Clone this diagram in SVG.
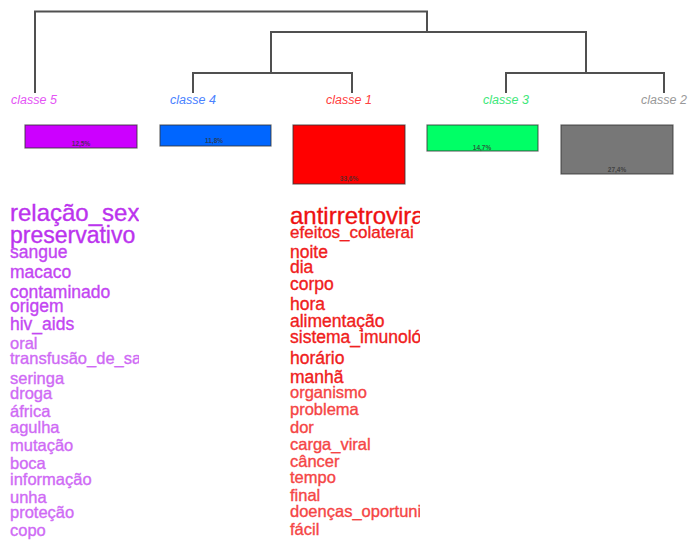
<svg xmlns="http://www.w3.org/2000/svg" width="688" height="541" viewBox="0 0 688 541">
  <style>
    .tree { fill: none; stroke: #505050; stroke-width: 2; }
    .lbl { font-family: "Liberation Sans", Arial, sans-serif; font-size: 12.5px; font-style: italic; text-anchor: middle; }
    .box { stroke: #333; stroke-opacity: 0.7; stroke-width: 1.2; }
    .pct { font-family: "Liberation Sans", Arial, sans-serif; font-size: 6.5px; font-weight: bold; fill: #333; fill-opacity: 0.8; text-anchor: middle; }
    .w { font-family: "Liberation Sans", Arial, sans-serif; stroke-width: 0.35; }
    .big { font-size: 24px; }
    .mid { font-size: 17.5px; }
    .sm { font-size: 16.5px; }
  </style>
  <defs>
    <clipPath id="clipLeft"><rect x="0" y="195" width="139" height="346"/></clipPath>
    <clipPath id="clipRight"><rect x="280" y="195" width="140" height="346"/></clipPath>
  </defs>
  <rect width="688" height="541" fill="#fff"/>

  <!-- dendrogram links -->
  <g id="connectors" class="tree">
    <path d="M35,93 V11.5 H427 V32"/>
    <path d="M271,73 V32 H586 V73"/>
    <path d="M193,93 V73 H352 V93"/>
    <path d="M506,93 V73 H664 V93"/>
  </g>

  <g id="classe5">
    <text class="lbl" x="34" y="104" fill="#e455f5">classe 5</text>
    <rect class="box" x="25" y="125" width="112" height="23" fill="#cc00ff"/>
    <text class="pct" x="81" y="146">12,5%</text>
    <g clip-path="url(#clipLeft)" class="w">
      <g fill="#bb33ee" stroke="#bb33ee">
        <text class="big" x="10" y="221">relação_sex</text>
        <text class="big" x="10" y="243" style="font-size:23px">preservativo</text>
      </g>
      <g fill="#c346f2" stroke="#c346f2">
        <text class="mid" x="10" y="258">sangue</text>
        <text class="mid" x="10" y="278">macaco</text>
        <text class="mid" x="10" y="298">contaminado</text>
        <text class="mid" x="10" y="312">origem</text>
        <text class="mid" x="10" y="330">hiv_aids</text>
      </g>
      <g fill="#cf6af5" stroke="#cf6af5">
        <text class="sm" x="10" y="349">oral</text>
        <text class="sm" x="10" y="364">transfusão_de_sa</text>
        <text class="sm" x="10" y="384">seringa</text>
        <text class="sm" x="10" y="399">droga</text>
        <text class="sm" x="10" y="417">áfrica</text>
        <text class="sm" x="10" y="433">agulha</text>
        <text class="sm" x="10" y="451">mutação</text>
        <text class="sm" x="10" y="469">boca</text>
        <text class="sm" x="10" y="485">informação</text>
        <text class="sm" x="10" y="503">unha</text>
        <text class="sm" x="10" y="518">proteção</text>
        <text class="sm" x="10" y="536">copo</text>
      </g>
    </g>
  </g>

  <g id="classe4">
    <text class="lbl" x="193" y="104" fill="#4a82ff">classe 4</text>
    <rect class="box" x="160" y="125" width="111" height="21" fill="#0066ff"/>
    <text class="pct" x="214" y="143">11,8%</text>
  </g>

  <g id="classe1">
    <text class="lbl" x="349" y="104" fill="#ff4040">classe 1</text>
    <rect class="box" x="293" y="125" width="112" height="59" fill="#ff0000"/>
    <text class="pct" x="349" y="181">33,6%</text>
    <g clip-path="url(#clipRight)" class="w">
      <text class="big" x="290" y="224" fill="#ee1111" stroke="#ee1111">antirretrovira</text>
      <g fill="#f02020" stroke="#f02020">
        <text class="sm" x="290" y="238" style="font-size:17px">efeitos_colaterai</text>
        <text class="mid" x="290" y="258">noite</text>
        <text class="mid" x="290" y="273">dia</text>
        <text class="mid" x="290" y="290">corpo</text>
        <text class="mid" x="290" y="310">hora</text>
        <text class="mid" x="290" y="327">alimentação</text>
        <text class="mid" x="290" y="343">sistema_imunoló</text>
        <text class="mid" x="290" y="364">horário</text>
        <text class="mid" x="290" y="383">manhã</text>
      </g>
      <g fill="#f54545" stroke="#f54545">
        <text class="sm" x="290" y="398">organismo</text>
        <text class="sm" x="290" y="415">problema</text>
        <text class="sm" x="290" y="433">dor</text>
        <text class="sm" x="290" y="450">carga_viral</text>
        <text class="sm" x="290" y="467">câncer</text>
        <text class="sm" x="290" y="483">tempo</text>
        <text class="sm" x="290" y="501">final</text>
        <text class="sm" x="290" y="517">doenças_oportuni</text>
        <text class="sm" x="290" y="535">fácil</text>
      </g>
    </g>
  </g>

  <g id="classe3">
    <text class="lbl" x="506" y="104" fill="#3ee87a">classe 3</text>
    <rect class="box" x="427" y="125" width="111" height="26" fill="#00ff66"/>
    <text class="pct" x="482" y="150">14,7%</text>
  </g>

  <g id="classe2">
    <text class="lbl" x="664" y="104" fill="#999">classe 2</text>
    <rect class="box" x="561" y="125" width="112" height="49" fill="#777"/>
    <text class="pct" x="617" y="172">27,4%</text>
  </g>
</svg>
